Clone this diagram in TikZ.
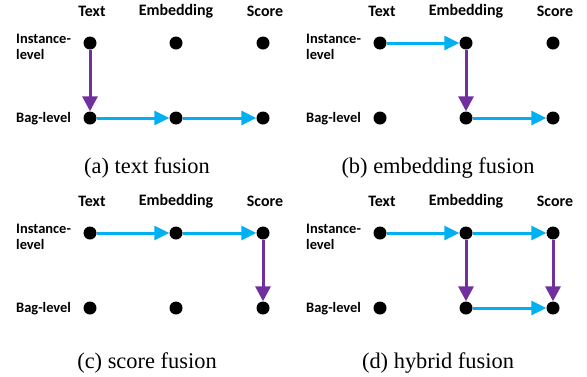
\documentclass[tikz,border=0pt]{standalone}
\usepackage{fontspec}
\setmainfont{Liberation Serif}
\newfontfamily\labfont{Carlito}
\usetikzlibrary{arrows.meta}
\definecolor{cyanc}{HTML}{00B0F0}
\definecolor{purp}{HTML}{7030A0}
\newcommand\fusionpanel[2]{%
  \node[collab] (#1-ct) at (92,11) {Text};
  \node[collab] (#1-ce) at (176,11) {Embedding};
  \node[collab] (#1-cs) at (265,11) {Score};
  \node[rowlab] (#1-ri) at (16,47) {Instance-\\level};
  \node[rowlab] (#1-rb) at (16,119) {Bag-level};
  \node[dot] (#1-ti) at (90,43) {};
  \node[dot] (#1-ei) at (176,43) {};
  \node[dot] (#1-si) at (263,43) {};
  \node[dot] (#1-tb) at (90,118) {};
  \node[dot] (#1-eb) at (176,118) {};
  \node[dot] (#1-sb) at (263,118) {};
}
\begin{document}
\begin{tikzpicture}[x=1bp,y=-1bp,
  dot/.style={circle,fill=black,minimum size=13bp,inner sep=0pt},
  collab/.style={font=\labfont\bfseries\fontsize{16}{17}\selectfont,inner sep=0pt},
  rowlab/.style={font=\labfont\bfseries\fontsize{14.5}{16}\selectfont,anchor=west,align=left,inner sep=0pt},
  captext/.style={font=\fontsize{22.5}{25}\selectfont,anchor=base,inner sep=0pt},
  ca/.style={draw=cyanc,line width=3bp,-{Triangle[length=15bp,width=14bp,fill=cyanc]}},
  pa/.style={draw=purp,line width=3bp,-{Triangle[length=15bp,width=15bp,fill=purp]}}
]
\useasboundingbox (0,0) rectangle (587,376);
% (a)
\begin{scope}
  \fusionpanel{a}{}
  \draw[pa] (a-ti) -- (a-tb);
  \draw[ca] (a-tb) -- (a-eb);
  \draw[ca] (a-eb) -- (a-sb);
  \node[captext] (a-cap) at (147,173) {(a) text fusion};
\end{scope}
% (b)
\begin{scope}[shift={(290,0)}]
  \fusionpanel{b}{}
  \draw[ca] (b-ti) -- (b-ei);
  \draw[pa] (b-ei) -- (b-eb);
  \draw[ca] (b-eb) -- (b-sb);
  \node[captext] (b-cap) at (148,173) {(b) embedding fusion};
\end{scope}
% (c)
\begin{scope}[shift={(0,190)}]
  \fusionpanel{c}{}
  \draw[ca] (c-ti) -- (c-ei);
  \draw[ca] (c-ei) -- (c-si);
  \draw[pa] (c-si) -- (c-sb);
  \node[captext] (c-cap) at (147,178) {(c) score fusion};
\end{scope}
% (d)
\begin{scope}[shift={(290,190)}]
  \fusionpanel{d}{}
  \draw[ca] (d-ti) -- (d-ei);
  \draw[ca] (d-ei) -- (d-si);
  \draw[pa] (d-ei) -- (d-eb);
  \draw[pa] (d-si) -- (d-sb);
  \draw[ca] (d-eb) -- (d-sb);
  \node[captext] (d-cap) at (148,178) {(d) hybrid fusion};
\end{scope}
\end{tikzpicture}
\end{document}
